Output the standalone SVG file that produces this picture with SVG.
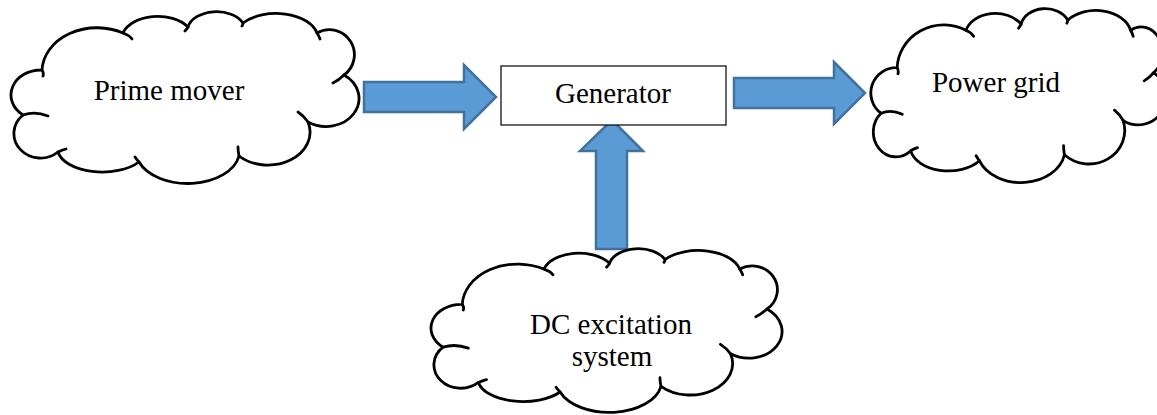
<svg xmlns="http://www.w3.org/2000/svg" xmlns:xlink="http://www.w3.org/1999/xlink" width="1157" height="415" viewBox="0 0 1157 415">
<style>
.cloud{fill:#fff;stroke:#000;stroke-width:2.8;stroke-linejoin:round;stroke-linecap:round;vector-effect:non-scaling-stroke}
.hook{fill:none;stroke:#000;stroke-width:2.8;stroke-linecap:round;vector-effect:non-scaling-stroke}
.arrow{fill:#5B9BD5;stroke:#41719C;stroke-width:2.5;stroke-linejoin:miter}
.box{fill:#fff;stroke:#000;stroke-width:1.2}
.lbl{font-family:"Liberation Serif","Times New Roman",serif;font-size:29px;fill:#000;text-anchor:middle}
</style>
<defs>
<g id="cloudShape">
<path class="cloud" d="M42 70 A55 44 0 0 1 123 33 A36 23 0 0 1 188 27 A29 19 0 0 1 243 23 A42 25 0 0 1 317 33 A25 25 0 0 1 344 75 A33 28 0 0 1 308 122 A42 33 0 0 1 239 156 A52 33 0 0 1 139 162 A45 24 0 0 1 58 152 A26 24 0 0 1 23 115 A30 25 0 0 1 42 70 Z"/>
<path class="hook" d="M42 70 Q44 73 43 76 M123 33 Q129 35 132 39 M188 27 Q187 29 185 31 M243 23 Q243 25 242 26 M317 33 Q319 36 320 39 M344 75 Q339 80 333 83 M308 122 Q304 116 298 112 M239 156 Q238 151 238 147 M139 162 Q137 160 135 157 M58 152 Q62 150 66 149 M23 115 Q35 111 48 116"/>
</g>
</defs>
<rect width="1157" height="415" fill="#fff"/>
<g id="connectors">
<polygon class="arrow" points="364,82 464,82 464,65 496,97 464,129 464,112 364,112"/>
<polygon class="arrow" points="734,78 834,78 834,62 865,93 834,124 834,108 734,108"/>
<polygon class="arrow" points="612,120 643,151 627,151 627,249 596,249 596,151 580,151"/>
</g>
<g id="prime-mover">
<use xlink:href="#cloudShape" href="#cloudShape"/>
<text class="lbl" x="169" y="100">Prime mover</text>
</g>
<g id="generator">
<rect class="box" x="501" y="66" width="225" height="59"/>
<text class="lbl" x="613" y="103">Generator</text>
</g>
<g id="power-grid">
<use xlink:href="#cloudShape" href="#cloudShape" transform="translate(861.5,-3.16) scale(0.849,1.012)"/>
<text class="lbl" x="996" y="92">Power grid</text>
</g>
<g id="dc-excitation">
<use xlink:href="#cloudShape" href="#cloudShape" transform="translate(419.9,237.6) scale(1.0087,0.953)"/>
<text class="lbl" x="611" y="334">DC excitation</text>
<text class="lbl" x="612" y="366">system</text>
</g>
</svg>
